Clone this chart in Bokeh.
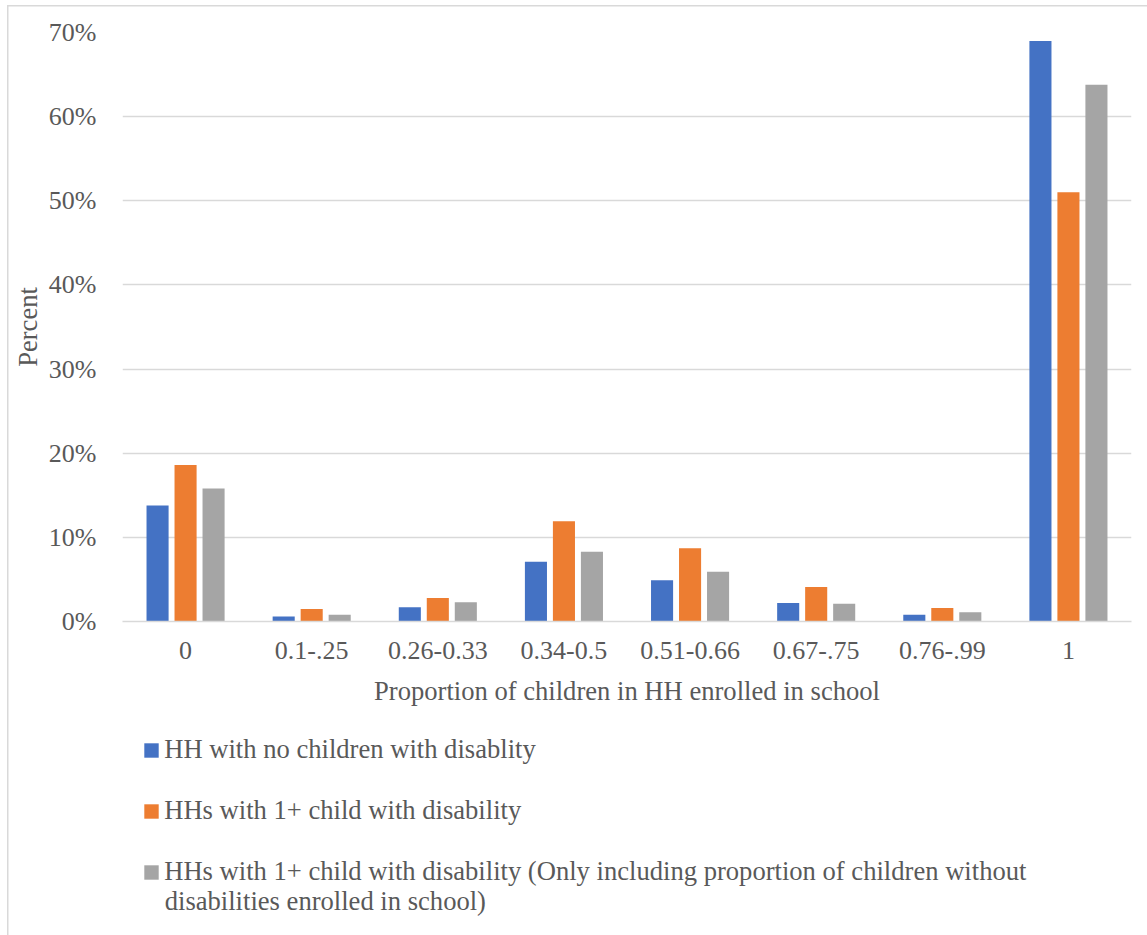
from bokeh.plotting import figure
from bokeh.layouts import column
from bokeh.models import (FactorRange, FixedTicker, NumeralTickFormatter, Legend, LegendItem, Label)
from bokeh.transform import dodge
from bokeh.embed import file_html
from bokeh.resources import INLINE

# Share of households by proportion of children enrolled in school
categories = ["0", "0.1-.25", "0.26-0.33", "0.34-0.5", "0.51-0.66", "0.67-.75", "0.76-.99", "1"]
no_disability = [0.138, 0.006, 0.017, 0.071, 0.049, 0.022, 0.008, 0.690]
with_disability = [0.186, 0.015, 0.028, 0.119, 0.087, 0.041, 0.016, 0.510]
without_disabled_children = [0.158, 0.008, 0.023, 0.083, 0.059, 0.021, 0.011, 0.638]
series_labels = [
    "HH with no children with disablity",
    "HHs with 1+ child with disability",
    "HHs with 1+ child with disability (Only including proportion of children without",
]
label_continuation = "disabilities enrolled in school)"
y_ticks = [0.0, 0.1, 0.2, 0.3, 0.4, 0.5, 0.6, 0.7]

colors = ["#4472C4", "#ED7D31", "#A5A5A5"]
FONT = "Liberation Serif"
TEXT = "#595959"
GRID = "#D9D9D9"
LINE = f"linear-gradient({GRID}, {GRID})"
LEGEND_SIZE = "26.6px"

source = dict(cat=categories, a=no_disability, b=with_disability, c=without_disabled_children)

# ---- bar chart -------------------------------------------------------------
p = figure(
    width=1147, height=720,
    x_range=FactorRange(*categories), y_range=(0, 0.7),
    output_backend="svg", toolbar_location=None,
    min_border_left=122, min_border_right=16, min_border_top=32, min_border_bottom=99,
)
p.outline_line_color = None
p.background_fill_color = "white"
p.border_fill_alpha = 0
# thin frame around the chart area (left and top edges)
p.styles = {"background": f"{LINE} 7px 5px / 1.5px 2000px no-repeat, "
                          f"{LINE} 7px 5px / 2000px 1.5px no-repeat, white"}

series_keys = ["a", "b", "c"]
offsets = [-0.222, 0.0, 0.222]
for key, off, col in zip(series_keys, offsets, colors):
    p.vbar(x=dodge("cat", off, range=p.x_range), top=key, width=0.175,
           source=source, fill_color=col, line_color=None)

p.yaxis.ticker = FixedTicker(ticks=y_ticks)
p.yaxis.formatter = NumeralTickFormatter(format="0%")
p.yaxis.axis_label = "Percent"
p.xaxis.axis_label = "Proportion of children in HH enrolled in school"
for ax in (p.xaxis[0], p.yaxis[0]):
    ax.major_label_text_font = FONT
    ax.major_label_text_font_size = "26px"
    ax.major_label_text_color = TEXT
    ax.axis_label_text_font = FONT
    ax.axis_label_text_font_size = "26.6px"
    ax.axis_label_text_font_style = "normal"
    ax.axis_label_text_color = TEXT
    ax.major_tick_line_color = None
    ax.minor_tick_line_color = None
    ax.major_tick_out = 0
    ax.major_tick_in = 0
p.yaxis.axis_line_color = None
p.yaxis.major_label_standoff = 26
p.yaxis.axis_label_standoff = 3
p.xaxis.axis_line_color = GRID
p.xaxis.axis_line_width = 1.5
p.xaxis.major_label_standoff = 20
p.xaxis.axis_label_standoff = 14

p.xgrid.grid_line_color = None
p.ygrid.grid_line_color = GRID
p.ygrid.grid_line_width = 1.5

# ---- legend panel ----------------------------------------------------------
lg = figure(
    width=1147, height=215, output_backend="svg", toolbar_location=None,
    x_axis_location=None, y_axis_location=None,
    min_border_left=0, min_border_right=0, min_border_top=0, min_border_bottom=0,
)
lg.outline_line_color = None
lg.background_fill_alpha = 0
lg.border_fill_alpha = 0
lg.grid.visible = False
lg.styles = {"background": f"{LINE} 7px 0px / 1.5px 2000px no-repeat, white"}

# zero-height bars that only carry the series colours into the legend
swatches = []
for col in colors:
    swatches.append(lg.vbar(x=[0], top=[0], width=0.5, fill_color=col, line_color=None))

legend = Legend(
    items=[LegendItem(label=lab, renderers=[r]) for lab, r in zip(series_labels, swatches)],
    orientation="vertical", location=(20.2, 48),
    label_text_font=FONT, label_text_font_size=LEGEND_SIZE, label_text_color=TEXT,
    glyph_width=18, glyph_height=18, label_standoff=4, spacing=30,
    margin=0, padding=0, border_line_color=None, background_fill_alpha=0,
)
lg.add_layout(legend, "center")

# second line of the last legend entry
lg.add_layout(Label(x=42.2, y=35, x_units="screen", y_units="screen",
                    text=label_continuation, text_font=FONT, text_font_size=LEGEND_SIZE,
                    text_color=TEXT, text_align="left", text_baseline="middle"))

layout = column(p, lg, spacing=0)
open("out.html", "w").write(file_html(layout, INLINE))
